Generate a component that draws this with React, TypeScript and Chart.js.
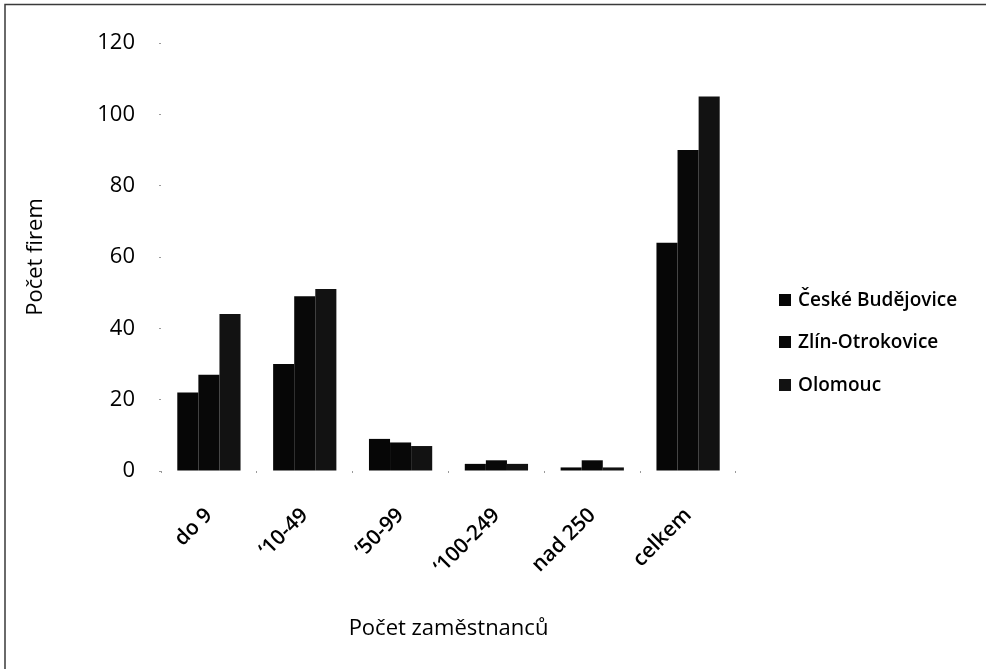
import React, { useEffect, useRef } from "react";
import { Chart, registerables } from "chart.js";

Chart.register(...registerables);

const categories = ["do 9", "\u201810-49", "\u201850-99", "\u2018100-249", "nad 250", "celkem"];
const seriesNames = ["České Budějovice", "Zlín-Otrokovice", "Olomouc"];
const budejovice = [22, 30, 9, 2, 1, 64];
const zlin = [27, 49, 8, 3, 3, 90];
const olomouc = [44, 51, 7, 2, 1, 105];
const seriesColors = ["#060606", "#080808", "#121212"];
const yTicks = [0, 20, 40, 60, 80, 100, 120];

const FONT = "'Open Sans', 'DejaVu Sans', sans-serif";

export default function App() {
  const ref = useRef<HTMLCanvasElement | null>(null);

  useEffect(() => {
    document.body.style.margin = "0";
    const canvas = ref.current;
    if (!canvas) return;

    const framePlugin = {
      id: "frame",
      beforeDraw(chart: any) {
        const ctx = chart.ctx;
        ctx.save();
        ctx.fillStyle = "#ffffff";
        ctx.fillRect(0, 0, chart.width, chart.height);
        ctx.strokeStyle = "#3a3a3a";
        ctx.lineWidth = 1.5;
        ctx.beginPath();
        ctx.moveTo(5, chart.height);
        ctx.lineTo(5, 4.5);
        ctx.lineTo(chart.width, 4.5);
        ctx.stroke();
        ctx.restore();
      },
    };

    const legendPlugin = {
      id: "customLegend",
      afterDraw(chart: any) {
        const ctx = chart.ctx;
        ctx.save();
        const x0 = 779;
        const ys = [300, 342, 385];
        chart.data.datasets.forEach((ds: any, i: number) => {
          ctx.fillStyle = ds.backgroundColor;
          ctx.fillRect(x0, ys[i] - 6, 12, 12);
          ctx.fillStyle = "#000";
          ctx.font = `600 19px ${FONT}`;
          ctx.textBaseline = "middle";
          ctx.textAlign = "left";
          ctx.fillText(ds.label, x0 + 19, ys[i] + 1);
        });
        ctx.restore();
      },
    };

    const chart = new Chart(canvas, {
      type: "bar",
      data: {
        labels: categories,
        datasets: [
          { label: seriesNames[0], data: budejovice, backgroundColor: seriesColors[0] },
          { label: seriesNames[1], data: zlin, backgroundColor: seriesColors[1] },
          { label: seriesNames[2], data: olomouc, backgroundColor: seriesColors[2] },
        ],
      },
      options: {
        responsive: false,
        animation: false,
        events: [],
        layout: { padding: { left: 0, right: 250, top: 43, bottom: 0 } },
        datasets: { bar: { categoryPercentage: 0.66, barPercentage: 1.0 } },
        plugins: {
          legend: { display: false },
          tooltip: { enabled: false },
        },
        scales: {
          x: {
            grid: { display: true, drawOnChartArea: false, tickLength: 2, color: "#9a9a9a", offset: true },
            border: { display: false },
            ticks: {
              color: "#000",
              font: { family: FONT, size: 21, weight: 600 },
              minRotation: 45,
              maxRotation: 45,
              padding: 30,
            },
            title: {
              display: true,
              text: "Počet zaměstnanců",
              color: "#000",
              font: { family: FONT, size: 22, weight: 400 },
              padding: { top: 0, bottom: 27 },
            },
            afterFit(scale: any) {
              scale.height = 198;
            },
          },
          y: {
            min: 0,
            max: 120,
            afterBuildTicks(scale: any) {
              scale.ticks = yTicks.map((v) => ({ value: v }));
            },
            grid: { display: true, drawOnChartArea: false, tickLength: 2, color: "#9a9a9a" },
            border: { display: false },
            ticks: {
              color: "#000",
              font: { family: FONT, size: 22, weight: 400 },
              padding: 24,
            },
            title: {
              display: true,
              text: "Počet firem",
              color: "#000",
              font: { family: FONT, size: 22, weight: 400 },
              padding: { top: 23, bottom: 0 },
            },
            afterFit(scale: any) {
              scale.width = 161;
            },
          },
        },
      },
      plugins: [framePlugin, legendPlugin],
    });

    return () => chart.destroy();
  }, []);

  return (
    <div style={{ width: 986, height: 669 }}>
      <canvas ref={ref} width={986} height={669} style={{ display: "block" }} />
    </div>
  );
}
